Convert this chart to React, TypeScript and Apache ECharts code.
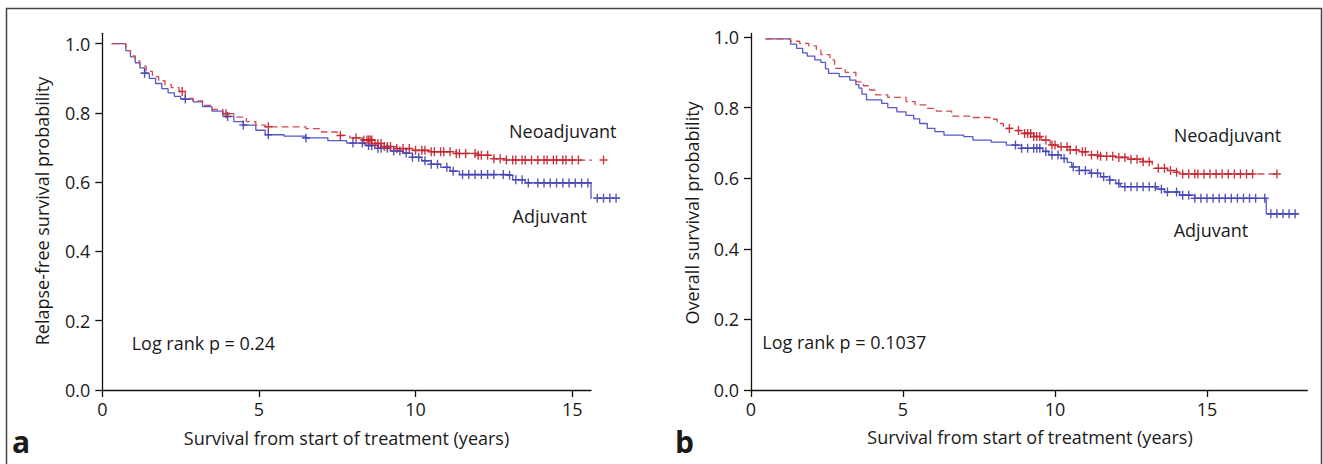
import React, { useEffect, useRef } from "react";
import * as echarts from "echarts";

// ---- Data (years, survival probability) ----
const xTicks = [0, 5, 10, 15];
const yTicks = [0, 0.2, 0.4, 0.6, 0.8, 1.0];

// Panel a: relapse-free survival (Kaplan-Meier steps)
const rfsNeo: number[][] = [
  [0.3, 1], [0.6, 1], [0.75, 0.98], [0.9, 0.965], [1.05, 0.95], [1.2, 0.935], [1.4, 0.92],
  [1.6, 0.905], [1.8, 0.893], [2.0, 0.882], [2.2, 0.873], [2.45, 0.862], [2.65, 0.842],
  [2.9, 0.835], [3.2, 0.822], [3.5, 0.81], [3.85, 0.798], [4.2, 0.788], [4.6, 0.775],
  [4.9, 0.765], [5.2, 0.76], [6.5, 0.755], [7.0, 0.745], [7.5, 0.735], [7.9, 0.728],
  [8.3, 0.722], [8.7, 0.712], [9.0, 0.703], [9.4, 0.697], [9.9, 0.692], [10.5, 0.688],
  [11.3, 0.683], [12.0, 0.678], [12.5, 0.668], [12.9, 0.664], [16.0, 0.664],
];
const rfsAdj: number[][] = [
  [0.3, 1], [0.6, 1], [0.75, 0.98], [0.9, 0.962], [1.05, 0.945], [1.2, 0.93], [1.35, 0.915],
  [1.5, 0.9], [1.7, 0.885], [1.9, 0.87], [2.1, 0.858], [2.3, 0.848], [2.5, 0.84], [2.9, 0.832],
  [3.2, 0.818], [3.5, 0.805], [3.85, 0.79], [4.2, 0.775], [4.5, 0.765], [4.9, 0.75],
  [5.2, 0.737], [5.8, 0.733], [6.5, 0.728], [7.2, 0.72], [7.8, 0.713], [8.4, 0.706],
  [8.8, 0.698], [9.2, 0.69], [9.6, 0.684], [9.9, 0.672], [10.2, 0.662], [10.5, 0.652],
  [10.8, 0.643], [11.1, 0.632], [11.4, 0.622], [12.9, 0.62], [13.1, 0.607], [13.5, 0.598],
  [15.6, 0.598], [15.6, 0.554], [16.4, 0.554],
];
const rfsNeoCensor = [
  2.55, 3.95, 5.3, 7.6, 8.1, 8.35, 8.45, 8.5, 8.55, 8.6, 8.7, 8.8, 8.9, 9.0, 9.1, 9.2, 9.4,
  9.6, 9.8, 10.0, 10.2, 10.3, 10.5, 10.6, 10.8, 10.9, 11.1, 11.3, 11.4, 11.6, 11.9, 12.0,
  12.1, 12.3, 12.5, 12.7, 12.9, 13.1, 13.2, 13.4, 13.5, 13.7, 13.9, 14.1, 14.2, 14.4, 14.5,
  14.7, 14.8, 15.0, 15.2, 16.0,
];
const rfsAdjCensor = [
  1.35, 2.65, 4.0, 4.5, 5.3, 6.5, 8.0, 8.3, 8.5, 8.6, 8.8, 8.9, 9.1, 9.3, 9.5, 9.7, 9.9,
  10.1, 10.3, 10.5, 10.7, 11.0, 11.2, 11.5, 11.7, 11.9, 12.1, 12.3, 12.5, 12.8, 13.0, 13.2,
  13.4, 13.6, 13.9, 14.1, 14.3, 14.5, 14.7, 14.9, 15.1, 15.3, 15.5, 15.8, 16.0, 16.2, 16.4,
];

// Panel b: overall survival
const osNeo: number[][] = [
  [0.48, 0.995], [1.1, 0.995], [1.3, 0.988], [1.6, 0.982], [1.9, 0.975], [2.15, 0.963],
  [2.3, 0.95], [2.6, 0.935], [2.75, 0.911], [3.1, 0.9], [3.45, 0.873], [3.7, 0.862],
  [3.9, 0.85], [4.1, 0.836], [4.5, 0.829], [5.1, 0.817], [5.4, 0.808], [5.75, 0.798],
  [6.1, 0.79], [6.6, 0.776], [7.3, 0.772], [7.86, 0.767], [8.1, 0.755], [8.3, 0.741],
  [8.7, 0.735], [9.0, 0.727], [9.3, 0.718], [9.55, 0.708], [9.84, 0.694], [10.1, 0.689],
  [10.5, 0.68], [10.8, 0.675], [11.15, 0.666], [11.5, 0.662], [12.0, 0.659], [12.5, 0.654],
  [12.9, 0.647], [13.2, 0.628], [13.7, 0.622], [14.0, 0.617], [14.2, 0.612], [17.35, 0.612],
];
const osAdj: number[][] = [
  [0.48, 0.995], [1.15, 0.995], [1.3, 0.98], [1.5, 0.968], [1.7, 0.955], [1.85, 0.946],
  [2.1, 0.935], [2.3, 0.928], [2.45, 0.91], [2.55, 0.897], [2.9, 0.888], [3.25, 0.878],
  [3.45, 0.865], [3.55, 0.855], [3.65, 0.838], [3.8, 0.822], [4.3, 0.812], [4.5, 0.8],
  [4.8, 0.788], [5.1, 0.778], [5.35, 0.768], [5.55, 0.755], [5.8, 0.741], [6.05, 0.732],
  [6.35, 0.722], [7.0, 0.718], [7.3, 0.708], [7.9, 0.702], [8.4, 0.694], [8.9, 0.685],
  [9.6, 0.676], [9.8, 0.666], [10.2, 0.656], [10.4, 0.645], [10.55, 0.632], [10.8, 0.622],
  [11.15, 0.614], [11.5, 0.604], [11.8, 0.595], [12.0, 0.585], [12.15, 0.576], [13.35, 0.569],
  [13.6, 0.561], [14.1, 0.552], [14.6, 0.543], [16.95, 0.543], [16.95, 0.499], [17.95, 0.499],
];
const osNeoCensor = [
  8.5, 8.8, 9.0, 9.1, 9.2, 9.3, 9.4, 9.5, 9.7, 9.9, 10.0, 10.2, 10.4, 10.5, 10.7, 10.9, 11.0,
  11.2, 11.4, 11.5, 11.7, 11.9, 12.1, 12.3, 12.5, 12.7, 12.9, 13.1, 13.4, 13.6, 13.8, 14.0,
  14.2, 14.4, 14.6, 14.7, 14.9, 15.1, 15.3, 15.5, 15.7, 15.9, 16.1, 16.3, 16.5, 17.3,
];
const osAdjCensor = [
  8.7, 8.9, 9.1, 9.3, 9.4, 9.5, 9.7, 9.9, 10.1, 10.3, 10.6, 10.8, 11.0, 11.2, 11.4, 11.6,
  11.8, 12.1, 12.3, 12.5, 12.7, 12.9, 13.1, 13.3, 13.5, 13.7, 14.0, 14.2, 14.4, 14.6, 14.8,
  15.0, 15.2, 15.4, 15.6, 15.8, 16.0, 16.2, 16.4, 16.6, 16.9, 17.1, 17.3, 17.5, 17.7, 17.9,
];

// ---- styling ----
const FONT = "'Open Sans', 'DejaVu Sans', sans-serif";
const RED_LINE = "#d04a50";
const RED_MARK = "#c3222c";
const BLUE_LINE = "#5858c6";
const BLUE_MARK = "#4242b2";
const PLUS = "path://M3.3,0H4.7V3.3H8V4.7H4.7V8H3.3V4.7H0V3.3H3.3Z";

function stepAt(data: number[][], t: number): number {
  let s = data[0][1];
  for (const p of data) {
    if (p[0] <= t) s = p[1];
    else break;
  }
  return s;
}

function censorPoints(data: number[][], times: number[]) {
  return times.map((t) => [t, stepAt(data, t)]);
}

function lineSeries(data: number[][], idx: number, color: string, dashed: boolean) {
  return {
    type: "line",
    xAxisIndex: idx,
    yAxisIndex: idx,
    data,
    step: "end",
    showSymbol: false,
    clip: false,
    silent: true,
    lineStyle: { color, width: 1.3, type: dashed ? [7, 4] : "solid" },
    z: 2,
  };
}

function censorSeries(data: number[][], times: number[], idx: number, color: string) {
  return {
    type: "scatter",
    xAxisIndex: idx,
    yAxisIndex: idx,
    data: censorPoints(data, times),
    symbol: PLUS,
    symbolSize: [8, 9],
    clip: false,
    silent: true,
    itemStyle: { color, opacity: 0.9 },
    z: 3,
  };
}

function xAxis(idx: number, max: number) {
  return {
    type: "value",
    gridIndex: idx,
    min: 0,
    max,
    axisLine: { show: true, lineStyle: { color: "#111", width: 1.3 } },
    axisTick: { show: true, length: 7, customValues: xTicks, lineStyle: { color: "#111", width: 1.3 } },
    axisLabel: {
      customValues: xTicks,
      margin: 10,
      fontFamily: FONT,
      fontSize: 18,
      color: "#1a1a1a",
      formatter: (v: number) => String(v),
    },
    splitLine: { show: false },
  };
}

function yAxis(idx: number, max: number) {
  return {
    type: "value",
    gridIndex: idx,
    min: 0,
    max,
    axisLine: { show: true, lineStyle: { color: "#111", width: 1.3 } },
    axisTick: { show: true, length: 7, customValues: yTicks, lineStyle: { color: "#111", width: 1.3 } },
    axisLabel: {
      customValues: yTicks,
      margin: 12,
      fontFamily: FONT,
      fontSize: 18,
      color: "#1a1a1a",
      formatter: (v: number) => v.toFixed(1),
    },
    splitLine: { show: false },
  };
}

function label(text: string, x: number, y: number, opts: any = {}) {
  return {
    type: "text",
    x,
    y,
    rotation: opts.rotation || 0,
    silent: true,
    style: {
      text,
      fill: "#1a1a1a",
      font: `${opts.weight || "normal"} ${opts.size || 18}px ${FONT}`,
      align: opts.align || "left",
      verticalAlign: "middle",
    },
  };
}

export default function App() {
  const ref = useRef<HTMLDivElement>(null);
  useEffect(() => {
    if (!ref.current) return;
    const chart = echarts.init(ref.current, undefined, { renderer: "svg" });
    chart.setOption({
      animation: false,
      backgroundColor: "#ffffff",
      grid: [
        { left: 102.3, top: 33.3, width: 488.7, height: 356.7 },
        { left: 751, top: 33.5, width: 556.3, height: 356.5 },
      ],
      xAxis: [xAxis(0, 15.6), xAxis(1, 18.3)],
      yAxis: [yAxis(0, 1.03), yAxis(1, 1.01)],
      series: [
        lineSeries(rfsAdj, 0, BLUE_LINE, false),
        lineSeries(rfsNeo, 0, RED_LINE, true),
        censorSeries(rfsAdj, rfsAdjCensor, 0, BLUE_MARK),
        censorSeries(rfsNeo, rfsNeoCensor, 0, RED_MARK),
        lineSeries(osAdj, 1, BLUE_LINE, false),
        lineSeries(osNeo, 1, RED_LINE, true),
        censorSeries(osAdj, osAdjCensor, 1, BLUE_MARK),
        censorSeries(osNeo, osNeoCensor, 1, RED_MARK),
      ],
      graphic: [
        {
          type: "rect",
          silent: true,
          shape: { x: 6.5, y: 8.5, width: 1315, height: 470 },
          style: { fill: "none", stroke: "#444", lineWidth: 1.5 },
        },
        label("Neoadjuvant", 509, 131),
        label("Adjuvant", 512.6, 215.5),
        label("Log rank p = 0.24", 131.7, 342.5),
        label("Relapse-free survival probability", 42, 211, { align: "center", rotation: Math.PI / 2 }),
        label("Survival from start of treatment (years)", 346.5, 438, { align: "center" }),
        label("a", 12, 441, { size: 30, weight: "bold" }),
        label("Neoadjuvant", 1173.7, 135),
        label("Adjuvant", 1173.7, 230),
        label("Log rank p = 0.1037", 762.3, 341.5),
        label("Overall survival probability", 692, 213, { align: "center", rotation: Math.PI / 2 }),
        label("Survival from start of treatment (years)", 1030, 437, { align: "center" }),
        label("b", 675, 441, { size: 30, weight: "bold" }),
      ],
    });
    return () => chart.dispose();
  }, []);
  return (
    <div
      ref={ref}
      style={{ position: "absolute", left: 0, top: 0, width: 1323, height: 464, background: "#fff" }}
    />
  );
}
